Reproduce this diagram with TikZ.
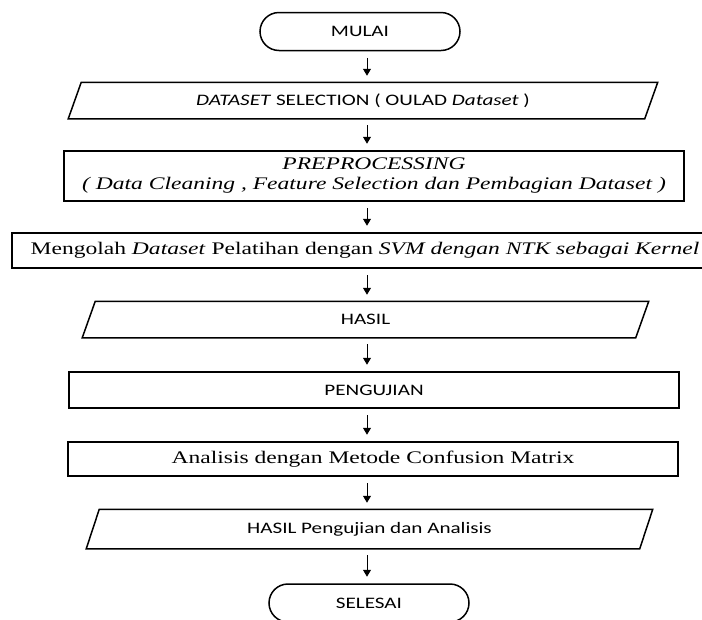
\documentclass[tikz,border=0pt]{standalone}
\usepackage{fontspec}
\setmainfont{Liberation Serif}[FakeStretch=1.33]
\newfontfamily\calfont{Carlito}[FakeStretch=1.32]
\usetikzlibrary{arrows.meta,positioning,shapes.misc}

\tikzset{
  base/.style={draw, line width=1.5pt, inner sep=0pt, align=center},
  sans/.style={font=\calfont\fontsize{16}{18}\selectfont},
  serif/.style={font=\fontsize{17.7}{20}\selectfont},
  terminal/.style={base, sans, rounded rectangle, minimum width=200pt, minimum height=38pt},
  io/.style={base, draw=none, rectangle},
  process/.style={base, rectangle},
  flow/.style={line width=1pt, -{Triangle[width=8pt,length=7pt]},
    shorten <=6.5pt, shorten >=6.5pt},
}

\begin{document}
\begin{tikzpicture}[x=1pt,y=-1pt]
  \useasboundingbox (0,0) rectangle (702,619);
  \fill[white] (0,0) rectangle (702,619);
  \node[terminal] (mulai) at (360,31.5) {MULAI};
  \node[io, sans, minimum width=575pt, minimum height=35pt] (dataset) at (363,100.5)
    {\textit{DATASET} SELECTION ( OULAD \textit{Dataset} )};
  \node[process, serif, minimum width=620pt, minimum height=50pt] (prepro) at (374,176)
    {\itshape PREPROCESSING\\\itshape ( Data Cleaning , Feature Selection dan Pembagian Dataset )};
  \node[process, serif, minimum width=706pt, minimum height=35pt] (svm) at (365,250.5)
    {Mengolah \textit{Dataset} Pelatihan dengan \textit{SVM dengan NTK sebagai Kernel}};
  \node[io, sans, minimum width=552pt, minimum height=35pt] (hasil) at (365.5,319.5) {HASIL};
  \node[process, sans, minimum width=610pt, minimum height=36pt] (uji) at (374,390) {PENGUJIAN};
  \node[process, serif, minimum width=610pt, minimum height=34pt] (analisis) at (373,459)
    {Analisis dengan Metode Confusion Matrix};
  \node[io, sans, minimum width=552pt, minimum height=38pt] (hasiluji) at (369.5,529)
    {HASIL Pengujian dan Analisis};
  \node[terminal] (selesai) at (369,603) {SELESAI};

  % slanted input/output boxes
  \foreach \n in {dataset, hasil, hasiluji}
    \draw[line width=1.5pt] ([xshift=6.5pt]\n.north west) -- ([xshift=6.5pt]\n.north east)
      -- ([xshift=-6.5pt]\n.south east) -- ([xshift=-6.5pt]\n.south west) -- cycle;

  \coordinate (spine) at (367,0);
  \foreach \a/\b in {mulai/dataset, dataset/prepro, prepro/svm, svm/hasil,
    hasil/uji, uji/analisis, analisis/hasiluji, hasiluji/selesai}
    \draw[flow] (\a.south -| spine) -- (\b.north -| spine);
\end{tikzpicture}
\end{document}
